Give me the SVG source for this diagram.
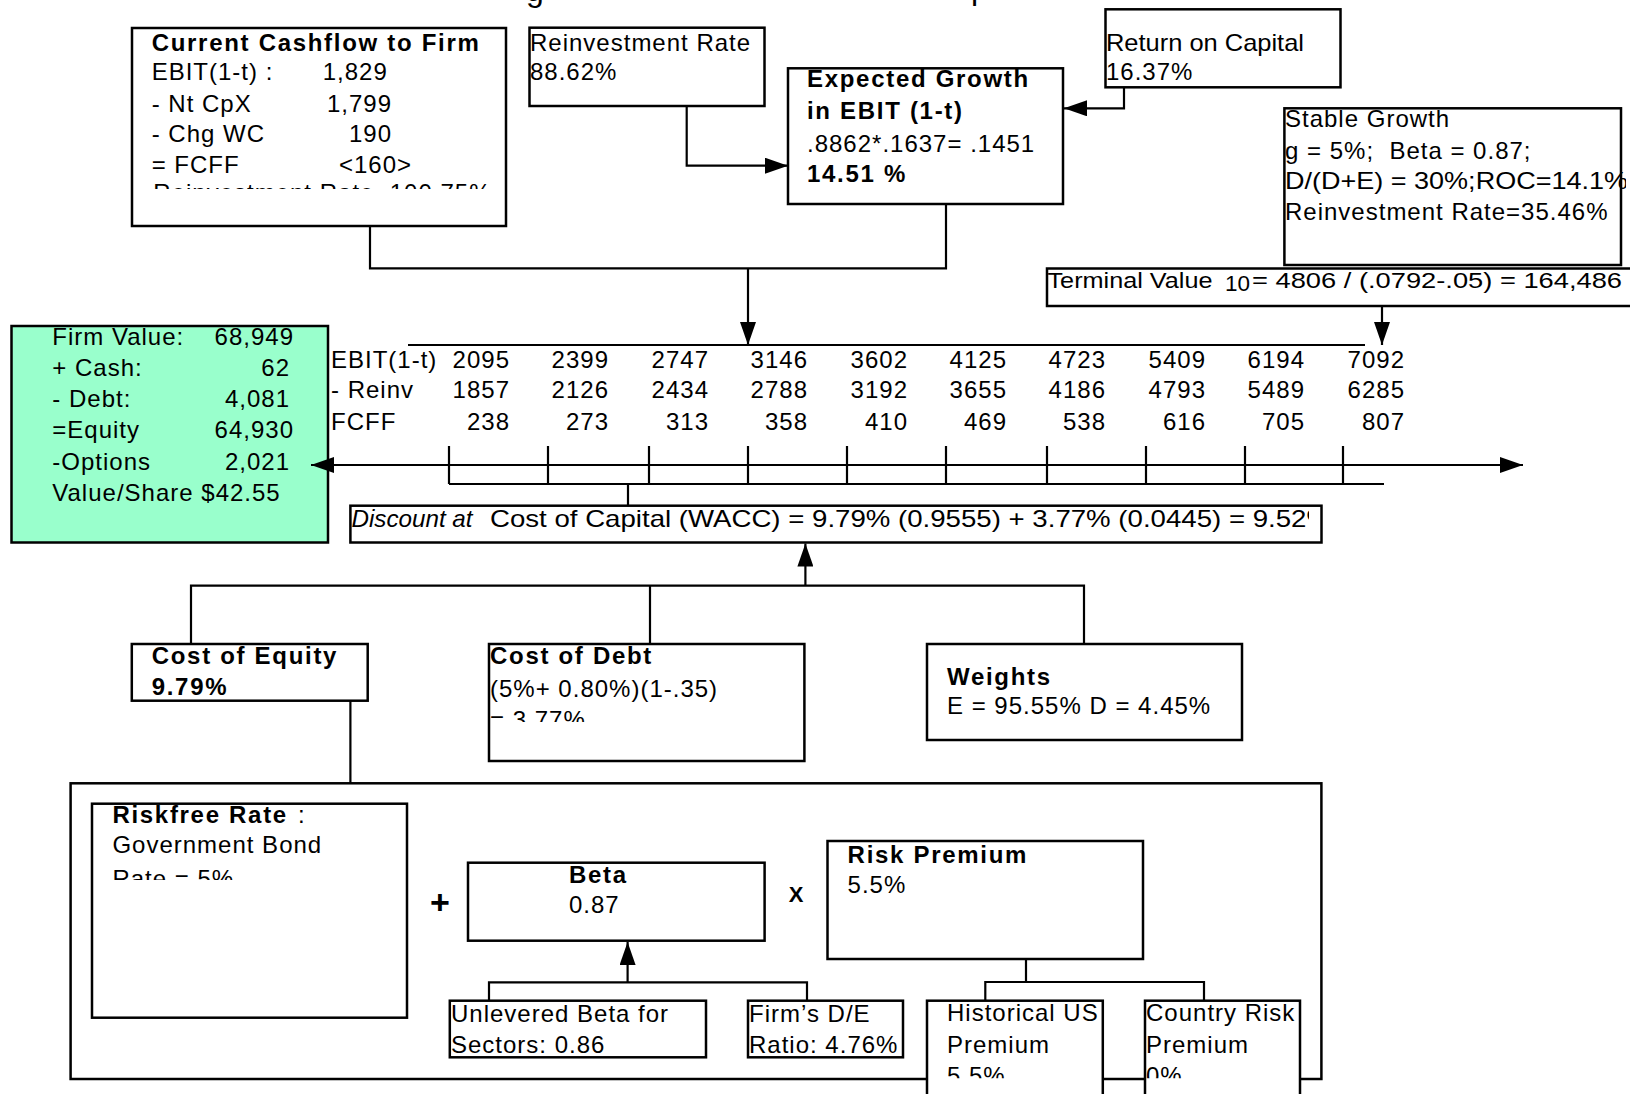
<svg xmlns="http://www.w3.org/2000/svg" width="1630" height="1094" viewBox="0 0 1630 1094">
<style>
text{font-family:"Liberation Sans",Arial,Helvetica,sans-serif;font-size:24px;letter-spacing:1px;fill:#000}
.b{font-weight:bold;letter-spacing:1.7px}
.i{font-style:italic}
.e{text-anchor:end}
.tl{letter-spacing:0}
.box{fill:#fff;stroke:#000;stroke-width:2.5}
.ln{fill:none;stroke:#000;stroke-width:2.2}
</style>
<defs>
<marker id="ah" markerUnits="userSpaceOnUse" markerWidth="24" markerHeight="16" refX="23" refY="8" orient="auto-start-reverse">
<path d="M0,0 L23,8 L0,16 Z" fill="#000"/>
</marker>
<clipPath id="c-ccf"><rect x="132" y="28" width="373" height="161"/></clipPath>
<clipPath id="c-cod"><rect x="489" y="644" width="315" height="78"/></clipPath>
<clipPath id="c-rf"><rect x="92" y="804" width="315" height="76"/></clipPath>
<clipPath id="c-bot"><rect x="900" y="1000" width="420" height="78.3"/></clipPath>
<clipPath id="c-wacc"><rect x="350" y="505" width="959" height="38"/></clipPath>
<clipPath id="c-sg"><rect x="1284" y="108" width="342" height="157"/></clipPath>
</defs>

<!-- title fragments -->
<text x="526" y="1" style="font-size:32px">g</text>
<text x="971" y="-1" style="font-size:32px">p</text>

<g id="riskbox">
<rect x="70.6" y="783.3" width="1250.8" height="295.7" fill="none" stroke="#000" stroke-width="2.5"/>
</g>

<g id="ccf">
<rect class="box" x="132" y="28" width="374" height="198"/>
<text class="b" x="151.7" y="50.7">Current Cashflow to Firm</text>
<text x="151.7" y="80">EBIT(1-t) :</text><text x="322.7" y="80">1,829</text>
<text x="151.7" y="111.7">- Nt CpX</text><text x="327" y="111.7">1,799</text>
<text x="151.7" y="141.7">- Chg WC</text><text x="349" y="141.7">190</text>
<text x="151.7" y="173.3">= FCFF</text><text x="339" y="173.3">&lt;160&gt;</text>
<text x="153.3" y="200.5" clip-path="url(#c-ccf)">Reinvestment Rate&#160; 100.75%</text>
</g>

<g id="reinv">
<rect class="box" x="529.5" y="27.7" width="235" height="78.3"/>
<text x="530" y="50.7">Reinvestment Rate</text>
<text x="530" y="80">88.62%</text>
</g>

<g id="growth">
<rect class="box" x="788" y="68.3" width="275" height="135.7"/>
<text class="b" x="807" y="87.3">Expected Growth</text>
<text class="b" x="807" y="119">in EBIT (1-t)</text>
<text x="807" y="151.7">.8862*.1637= .1451</text>
<text class="b" x="807" y="181.7">14.51 %</text>
</g>

<g id="roc">
<rect class="box" x="1105.5" y="9.3" width="235" height="78"/>
<text class="tl" x="1106" y="50.7" textLength="198" lengthAdjust="spacingAndGlyphs">Return on Capital</text>
<text x="1106" y="80">16.37%</text>
</g>

<g id="stable">
<rect class="box" x="1284.4" y="108.3" width="336.6" height="156.7"/>
<g clip-path="url(#c-sg)">
<text x="1285" y="127.3">Stable Growth</text>
<text x="1285" y="159.3" xml:space="preserve">g = 5%;  Beta = 0.87;</text>
<text class="tl" x="1285" y="189.3" textLength="343" lengthAdjust="spacingAndGlyphs">D/(D+E) = 30%;ROC=14.1%</text>
<text x="1285" y="220">Reinvestment Rate=35.46%</text>
</g>
</g>

<g id="terminal">
<rect class="box" x="1047" y="268.5" width="600" height="37.5"/>
<text class="tl" x="1047.5" y="287.8" style="font-size:22.5px" textLength="165" lengthAdjust="spacingAndGlyphs">Terminal Value</text>
<text class="tl" x="1225" y="291" style="font-size:22.5px" textLength="25" lengthAdjust="spacingAndGlyphs">10</text>
<text class="tl" x="1252" y="287.8" style="font-size:22.5px" textLength="370" lengthAdjust="spacingAndGlyphs">= 4806 / (.0792-.05) = 164,486</text>
</g>

<g id="value">
<rect x="11.5" y="326" width="316.5" height="216.5" fill="#99ffcc" stroke="#000" stroke-width="2.5"/>
<text x="52.3" y="345">Firm Value:</text><text class="e" x="294" y="345">68,949</text>
<text x="52.3" y="376">+ Cash:</text><text class="e" x="290" y="376">62</text>
<text x="52.3" y="407">- Debt:</text><text class="e" x="290" y="407">4,081</text>
<text x="52.3" y="438">=Equity</text><text class="e" x="294" y="438">64,930</text>
<text x="52.3" y="469.5">-Options</text><text class="e" x="290" y="469.5">2,021</text>
<text x="52.3" y="501">Value/Share $42.55</text>
</g>

<g id="cashflows">
<text x="331" y="368">EBIT(1-t)</text>
<text x="331" y="398">- Reinv</text>
<text x="331" y="430">FCFF</text>
<text class="e" x="510" y="368">2095</text><text class="e" x="609" y="368">2399</text><text class="e" x="709" y="368">2747</text><text class="e" x="808" y="368">3146</text><text class="e" x="908" y="368">3602</text><text class="e" x="1007" y="368">4125</text><text class="e" x="1106" y="368">4723</text><text class="e" x="1206" y="368">5409</text><text class="e" x="1305" y="368">6194</text><text class="e" x="1405" y="368">7092</text>
<text class="e" x="510" y="398">1857</text><text class="e" x="609" y="398">2126</text><text class="e" x="709" y="398">2434</text><text class="e" x="808" y="398">2788</text><text class="e" x="908" y="398">3192</text><text class="e" x="1007" y="398">3655</text><text class="e" x="1106" y="398">4186</text><text class="e" x="1206" y="398">4793</text><text class="e" x="1305" y="398">5489</text><text class="e" x="1405" y="398">6285</text>
<text class="e" x="510" y="430">238</text><text class="e" x="609" y="430">273</text><text class="e" x="709" y="430">313</text><text class="e" x="808" y="430">358</text><text class="e" x="908" y="430">410</text><text class="e" x="1007" y="430">469</text><text class="e" x="1106" y="430">538</text><text class="e" x="1206" y="430">616</text><text class="e" x="1305" y="430">705</text><text class="e" x="1405" y="430">807</text>
</g>

<g id="discount">
<rect class="box" x="350.4" y="505.7" width="971.1" height="36.8"/>
<text class="i tl" x="351.5" y="527" textLength="121" lengthAdjust="spacingAndGlyphs">Discount at</text>
<text class="tl" x="490" y="527" textLength="841" lengthAdjust="spacingAndGlyphs" clip-path="url(#c-wacc)">Cost of Capital (WACC) = 9.79% (0.9555) + 3.77% (0.0445) = 9.52%</text>
</g>

<g id="coe">
<rect class="box" x="131.8" y="644" width="235.9" height="56.7"/>
<text class="b" x="151.7" y="664.3">Cost of Equity</text>
<text class="b" x="151.7" y="695">9.79%</text>
</g>

<g id="cod">
<rect class="box" x="489" y="644" width="315.4" height="117"/>
<text class="b" x="490" y="664.3">Cost of Debt</text>
<text x="490" y="697">(5%+ 0.80%)(1-.35)</text>
<text x="490" y="727.5" clip-path="url(#c-cod)">= 3.77%</text>
</g>

<g id="weights">
<rect class="box" x="927" y="644" width="315" height="96"/>
<text class="b" x="947" y="685">Weights</text>
<text x="947" y="714">E = 95.55% D = 4.45%</text>
</g>

<g id="riskfree">
<rect class="box" x="92" y="803.7" width="315" height="214"/>
<text class="b" x="112.4" y="823.3">Riskfree Rate</text><text x="298" y="823.3">:</text>
<text x="112.4" y="853.3">Government Bond</text>
<text x="112.4" y="887" clip-path="url(#c-rf)">Rate = 5%</text>
</g>

<g id="ops">
<text class="b" x="440" y="914" style="font-size:34px;text-anchor:middle;letter-spacing:0">+</text>
<text class="b" x="796" y="901.7" style="font-size:22px;text-anchor:middle;letter-spacing:0">X</text>
</g>

<g id="beta">
<rect class="box" x="468" y="862.7" width="296.6" height="78"/>
<text class="b" x="569" y="882.7">Beta</text>
<text x="569" y="913.3">0.87</text>
</g>

<g id="rp">
<rect class="box" x="827.5" y="841" width="315.5" height="118"/>
<text class="b" x="847.6" y="863.3">Risk Premium</text>
<text x="847.6" y="893.3">5.5%</text>
</g>

<g id="unlev">
<rect class="box" x="449.8" y="1000.7" width="256.2" height="56.6"/>
<text x="451" y="1021.7">Unlevered Beta for</text>
<text x="451" y="1053.3">Sectors: 0.86</text>
</g>

<g id="firmde">
<rect class="box" x="748" y="1000.7" width="155" height="56.6"/>
<text x="749" y="1021.7">Firm’s D/E</text>
<text x="749" y="1053.3">Ratio: 4.76%</text>
</g>

<g id="hist">
<rect class="box" x="927" y="1000.7" width="175.8" height="110"/>
<text x="947" y="1020.7">Historical US</text>
<text x="947" y="1053.3">Premium</text>
<text x="947" y="1084" clip-path="url(#c-bot)">5.5%</text>
</g>

<g id="crp">
<rect class="box" x="1145" y="1000.7" width="155" height="110"/>
<text x="1146" y="1020.7">Country Risk</text>
<text x="1146" y="1053.3">Premium</text>
<text x="1146" y="1084" clip-path="url(#c-bot)">0%</text>
</g>

<g id="connectors" class="ln">
<path d="M686.7,106 V165.7 H788" marker-end="url(#ah)"/>
<path d="M1124,87.3 V108.3 H1064" marker-end="url(#ah)"/>
<path d="M370,226 V268.3 H946 V204"/>
<path d="M748,268.3 V345" marker-end="url(#ah)"/>
<path d="M1382,306 V345" marker-end="url(#ah)"/>
<path d="M408,345 H1365"/>
<path d="M311,465 H1523" marker-start="url(#ah)" marker-end="url(#ah)"/>
<path d="M449,446 V484 M548,446 V484 M649,446 V484 M748,446 V484 M847,446 V484 M946,446 V484 M1047,446 V484 M1146,446 V484 M1245,446 V484 M1343,446 V484"/>
<path d="M449,484 H1384 M628,484 V506"/>
<path d="M805.4,585.7 V543.5" marker-end="url(#ah)"/>
<path d="M191,644 V585.7 H1084 V644 M650,585.7 V644"/>
<path d="M350.4,700.7 V783.3"/>
<path d="M627.6,982.3 V942" marker-end="url(#ah)"/>
<path d="M489,1000.7 V982.3 H807 V1000.7"/>
<path d="M1026,959 V982 M985.3,1000.7 V982 H1204 V1000.7"/>
</g>
</svg>
